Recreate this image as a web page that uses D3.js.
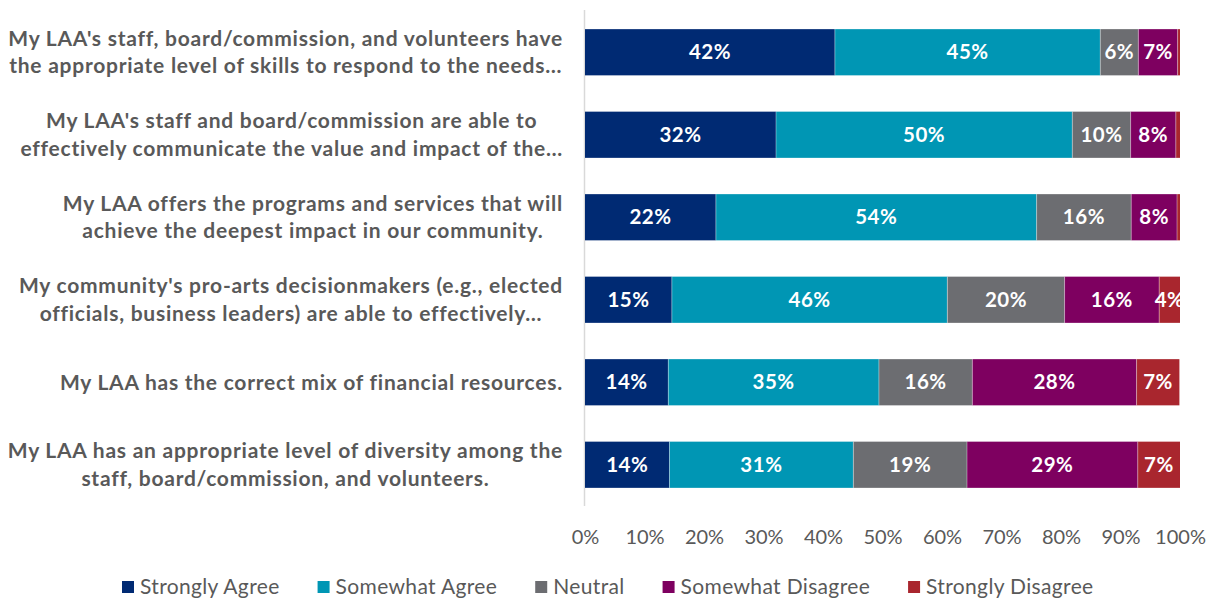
<!DOCTYPE html>
<html><head><meta charset="utf-8">
<script src="https://cdn.jsdelivr.net/npm/d3@7"></script>
<style>body{margin:0;background:#fff}svg{display:block}</style>
</head><body>
<svg id="c" width="1214" height="601"></svg>
<script>
const categories = [
  ["My LAA's staff, board/commission, and volunteers have", "the appropriate level of skills to respond to the needs…"],
  ["My LAA's staff and board/commission are able to", "effectively communicate the value and impact of the…"],
  ["My LAA offers the programs and services that will", "achieve the deepest impact in our community."],
  ["My community's pro-arts decisionmakers (e.g., elected", "officials, business leaders) are able to effectively…"],
  ["My LAA has the correct mix of financial resources."],
  ["My LAA has an appropriate level of diversity among the", "staff, board/commission, and volunteers."]
];
const seriesNames = ["Strongly Agree","Somewhat Agree","Neutral","Somewhat Disagree","Strongly Disagree"];
const stronglyAgree    = [42.0, 32.1, 22.0, 14.6, 14.0, 14.2];
const somewhatAgree    = [44.6, 49.8, 53.9, 46.3, 35.4, 30.9];
const neutral          = [6.4, 9.8, 15.9, 19.7, 15.7, 19.1];
const somewhatDisagree = [6.6, 7.6, 7.7, 15.9, 27.6, 28.7];
const stronglyDisagree = [0.4, 0.7, 0.5, 3.5, 7.2, 7.1];
const xTicks = [0,10,20,30,40,50,60,70,80,90,100];
const colors = ["#002A73","#0096B4","#6C6D71","#7E0060","#A9262E"];

const series = [stronglyAgree, somewhatAgree, neutral, somewhatDisagree, stronglyDisagree];
const rows = categories.map((c,i)=>{
  const o = {idx:i};
  seriesNames.forEach((s,j)=>o[s]=series[j][i]);
  return o;
});
const stack = d3.stack().keys(seriesNames)(rows);

const svg = d3.select("#c");
const font = "Lato, 'Open Sans', sans-serif";
const x = d3.scaleLinear().domain([0,100]).range([585,1180]);
const y = d3.scaleBand().domain(d3.range(categories.length)).range([11,506]).paddingInner(0.44).paddingOuter(0.22);

// axis line
svg.append("line").attr("x1",584.5).attr("x2",584.5).attr("y1",10).attr("y2",506)
  .attr("stroke","#d9d9d9").attr("stroke-width",1.5);

// bars
const g = svg.append("g");
stack.forEach((layer,j)=>{
  g.selectAll(null).data(layer).join("rect")
    .attr("x",d=>x(d[0])).attr("width",d=>x(d[1])-x(d[0]))
    .attr("y",(d,i)=>y(i)).attr("height",y.bandwidth())
    .attr("fill",colors[j]);
  g.selectAll(null).data(layer.filter(d=>d[1]-d[0]>=3)).join("text")
    .attr("x",d=>(x(d[0])+x(d[1]))/2)
    .attr("y",d=>y(d.data.idx)+y.bandwidth()/2)
    .attr("dy","0.35em").attr("text-anchor","middle")
    .attr("fill","#fff").attr("font-family",font).attr("font-weight","bold").attr("font-size",20.5)
    .attr("letter-spacing",0.5)
    .text(d=>Math.round(d[1]-d[0])+"%");
});
// white separators
stack.forEach((layer,j)=>{ if(j===0) return;
  g.selectAll(null).data(layer).join("line")
    .attr("x1",d=>x(d[0])).attr("x2",d=>x(d[0]))
    .attr("y1",(d,i)=>y(i)).attr("y2",(d,i)=>y(i)+y.bandwidth())
    .attr("stroke","#fff").attr("stroke-opacity",0.5).attr("stroke-width",0.75);
});

// category labels (centered block, right-aligned)
const R = 563;
categories.forEach((lines,i)=>{
  const t = svg.append("text").attr("font-family",font).attr("font-weight","bold")
    .attr("font-size",21).attr("letter-spacing",0.75).attr("fill","#595959").attr("text-anchor","middle");
  const lh = 27.5;
  const cy = y(i)+y.bandwidth()/2;
  const ts = lines.map((l,k)=>t.append("tspan").text(l)
     .attr("y", cy + (k-(lines.length-1)/2)*lh).attr("dy","0.35em"));
  const maxW = d3.max(ts, s=>s.node().getComputedTextLength());
  ts.forEach(s=>s.attr("x", R - maxW/2));
});

// x axis
const ax = svg.append("g").attr("transform","translate(0,537)")
  .call(d3.axisBottom(x).tickValues(xTicks).tickFormat(d=>d+"%").tickSize(0).tickPadding(0));
ax.select(".domain").remove();
ax.selectAll("text").attr("font-family",font).attr("font-size",20).attr("fill","#595959").attr("dy","0.35em");

// legend
const leg = svg.append("g").attr("transform","translate(122,587)");
let lx = 0;
seriesNames.forEach((s,j)=>{
  leg.append("rect").attr("x",lx).attr("y",-6).attr("width",12).attr("height",12).attr("fill",colors[j]);
  const t = leg.append("text").attr("x",lx+18).attr("y",0).attr("dy","0.35em")
    .attr("font-family",font).attr("font-size",21).attr("letter-spacing",0.35).attr("fill","#595959").text(s);
  lx += 18 + t.node().getComputedTextLength() + 38;
});
</script>
</body></html>
